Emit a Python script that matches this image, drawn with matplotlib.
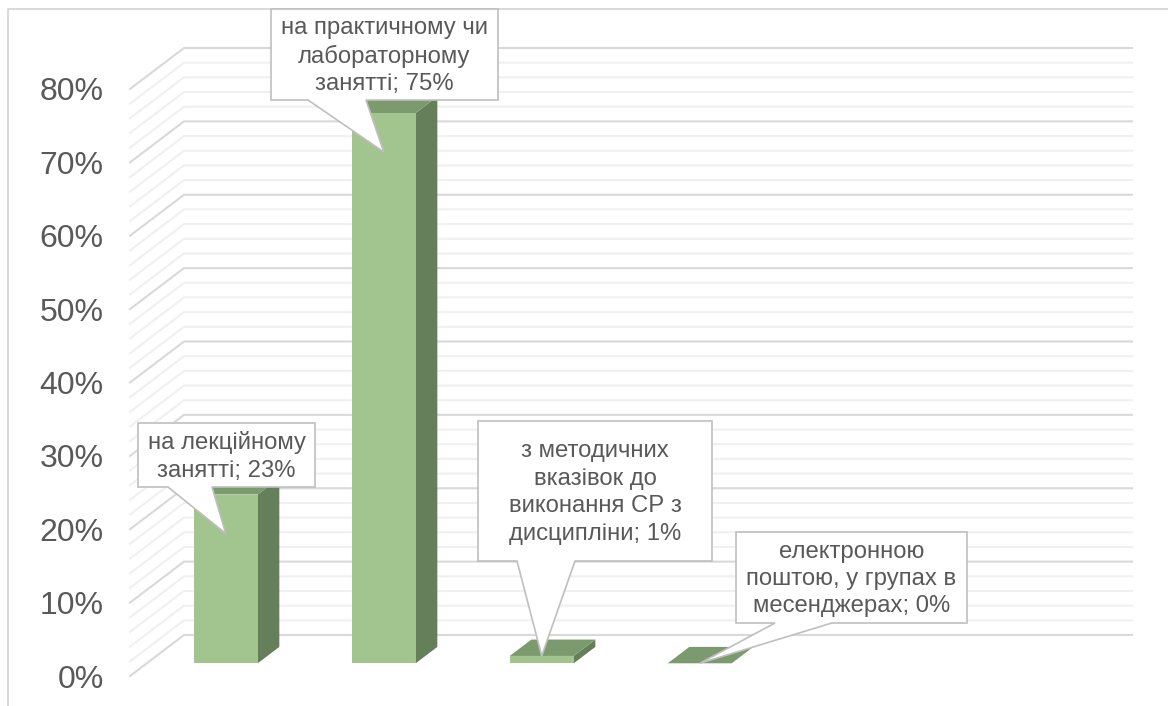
"""Faux-3D column chart with callout labels, drawn on a flat axes with an oblique projection."""

import matplotlib

matplotlib.use("Agg")
import matplotlib.pyplot as plt
import numpy as np
from matplotlib.lines import Line2D
from matplotlib.patches import Polygon
from matplotlib.transforms import Affine2D

plt.rcParams["font.family"] = ["Liberation Sans", "DejaVu Sans"]

CATEGORIES = [
    "на лекційному\nзанятті",
    "на практичному чи\nлабораторному\nзанятті",
    "з методичних\nвказівок до\nвиконання СР з\nдисципліни",
    "електронною\nпоштою, у групах в\nмесенджерах",
]
VALUES = [23, 75, 1, 0]
MAJOR_TICKS = [0, 10, 20, 30, 40, 50, 60, 70, 80]
MINOR_TICKS = [v for v in range(0, 81, 2) if v % 10]
N_SLOTS = 6

WIDTH, HEIGHT = 1168, 706
GREY_TEXT = "#595959"
FRONT = "#a2c48f"
SIDE = "#667f5b"
TOP = "#7b9a6e"
BORDER = "#d9d9d9"
CALLOUT_EDGE = "#bfbfbf"

# depth of the wall and the bar footprint, as a fraction of the floor depth
DEPTH_DX = 54 / 158
DEPTH_DY = 41 / 7.3375
BAR_WIDTH = 0.405
BAR_NEAR, BAR_FAR = 0.31, 0.71

# callouts in image pixels: box (x0, y0, x1, y1), pointer base (xa, xb), tip drop below bar top
CALLOUTS = [
    ((138, 423, 315, 487), (168, 212), 39),
    ((271, 9, 498, 100), (308, 366), 39),
    ((478, 421, 712, 561), (517, 575), 0),
    ((736, 532, 967, 623), (775, 832), 0),
]


def project(x, value, depth):
    return x + depth * DEPTH_DX, value + depth * DEPTH_DY


def draw_grid(ax, ticks, color, lw, zorder):
    for v in ticks:
        xs, ys = zip(project(0, v, 0), project(0, v, 1), project(N_SLOTS, v, 1))
        ax.plot(xs, ys, color=color, lw=lw, zorder=zorder, clip_on=False, solid_joinstyle="miter")


def draw_bar(ax, i, value):
    left = i + 0.5 - BAR_WIDTH / 2
    right = left + BAR_WIDTH
    corners = {
        "front": [(left, 0, BAR_NEAR), (right, 0, BAR_NEAR), (right, value, BAR_NEAR), (left, value, BAR_NEAR)],
        "side": [(right, 0, BAR_NEAR), (right, 0, BAR_FAR), (right, value, BAR_FAR), (right, value, BAR_NEAR)],
        "top": [(left, value, BAR_NEAR), (right, value, BAR_NEAR), (right, value, BAR_FAR), (left, value, BAR_FAR)],
    }
    for face, color in [("side", SIDE), ("front", FRONT), ("top", TOP)]:
        pts = [project(*c) for c in corners[face]]
        ax.add_patch(Polygon(pts, closed=True, facecolor=color, edgecolor="none", zorder=3, clip_on=False))


def main():
    fig = plt.figure(figsize=(WIDTH / 100, HEIGHT / 100), dpi=100)
    px = Affine2D().scale(1, -1).translate(0, HEIGHT)

    ax = fig.add_axes([130 / WIDTH, 1 - 676 / HEIGHT, 948 / WIDTH, (676 - 89) / HEIGHT])
    ax.set_xlim(0, N_SLOTS)
    ax.set_ylim(0, 80)
    ax.patch.set_visible(False)
    for spine in ax.spines.values():
        spine.set_visible(False)
    ax.set_xticks([])
    ax.set_yticks(MAJOR_TICKS)
    ax.set_yticklabels([f"{v}%" for v in MAJOR_TICKS], fontsize=23, color=GREY_TEXT)
    ax.tick_params(axis="y", length=0, pad=19)

    draw_grid(ax, MINOR_TICKS, "#f0f0f0", 1.5, 1)
    draw_grid(ax, MAJOR_TICKS, BORDER, 1.5, 2)

    for i, value in enumerate(VALUES):
        draw_bar(ax, i, value)

    # chart frame: only the top and left edges are inside the crop
    fig.add_artist(Line2D([8, 8, WIDTH], [HEIGHT, 9, 9], color=BORDER, lw=1.4, transform=px))

    to_pixels = ax.transData + px.inverted()
    for i, (label, value, callout) in enumerate(zip(CATEGORIES, VALUES, CALLOUTS)):
        (x0, y0, x1, y1), (xa, xb), drop = callout
        left = i + 0.5 - BAR_WIDTH / 2
        tip_x, tip_y = to_pixels.transform(project(left + BAR_WIDTH / 2, value, BAR_NEAR))
        shape = np.array(
            [(x0, y0), (x1, y0), (x1, y1), (xb, y1), (tip_x, tip_y + drop), (xa, y1), (x0, y1)]
        )
        fig.add_artist(
            Polygon(shape, closed=True, facecolor="white", edgecolor=CALLOUT_EDGE, lw=1.2,
                    joinstyle="miter", transform=px, zorder=5)
        )
        fig.text(
            (x0 + x1) / 2 / WIDTH,
            1 - ((y0 + y1) / 2 + 1.5) / HEIGHT,
            f"{label}; {value}%",
            ha="center",
            va="center",
            fontsize=17.2,
            linespacing=1.32,
            color=GREY_TEXT,
            zorder=6,
        )

    fig.savefig("out.png", dpi=100)
    plt.close(fig)


if __name__ == "__main__":
    main()
